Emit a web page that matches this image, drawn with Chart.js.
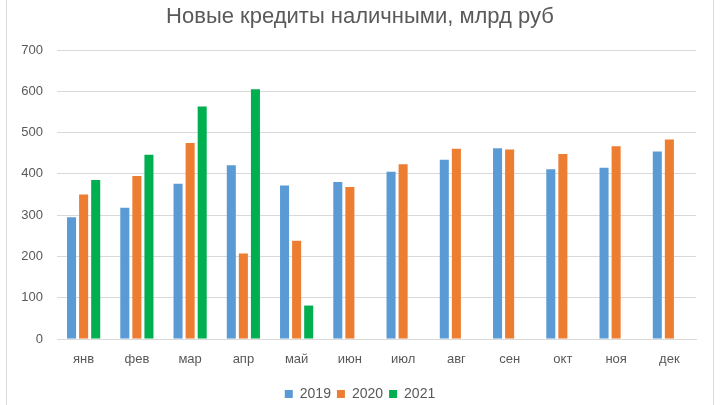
<!DOCTYPE html>
<html>
<head>
<meta charset="utf-8">
<script src="https://cdn.jsdelivr.net/npm/chart.js@4/dist/chart.umd.min.js"></script>
<style>
html,body{margin:0;padding:0;background:#fff;}
#wrap{position:relative;width:720px;height:405px;}
</style>
</head>
<body>
<div id="wrap"><canvas id="c" width="720" height="405"></canvas></div>
<script>
const categories = ['янв','фев','мар','апр','май','июн','июл','авг','сен','окт','ноя','дек'];
const seriesNames = ['2019','2020','2021'];
const values2019 = [295, 318, 376, 421, 372, 380, 405, 434, 462, 411, 415, 454];
const values2020 = [350, 395, 475, 207, 238, 368, 423, 461, 459, 448, 467, 483];
const values2021 = [385, 446, 563, 605, 81, null, null, null, null, null, null, null];
const yTicks = [0, 100, 200, 300, 400, 500, 600, 700];
const titleText = 'Новые кредиты наличными, млрд руб';

const FONT = "'Liberation Sans', Arial, sans-serif";
const TXT = '#595959';

const borderPlugin = {
  id: 'outerBorder',
  beforeDraw(chart) {
    const ctx = chart.ctx;
    ctx.save();
    ctx.fillStyle = '#fff';
    ctx.fillRect(0, 0, chart.width, chart.height);
    ctx.strokeStyle = '#d9d9d9';
    ctx.lineWidth = 1;
    ctx.strokeRect(6.5, -2, 707, 410);
    ctx.restore();
  }
};

new Chart(document.getElementById('c'), {
  type: 'bar',
  data: {
    labels: categories,
    datasets: [
      { label: seriesNames[0], data: values2019, backgroundColor: '#5B9BD5' },
      { label: seriesNames[1], data: values2020, backgroundColor: '#ED7D31' },
      { label: seriesNames[2], data: values2021, backgroundColor: '#00B050' }
    ]
  },
  options: {
    responsive: false,
    animation: false,
    devicePixelRatio: 1,
    layout: { padding: { left: 0, right: 0, top: 0, bottom: -6 } },
    datasets: { bar: { categoryPercentage: 0.68, barPercentage: 0.75 } },
    plugins: {
      title: {
        display: true,
        text: titleText,
        color: TXT,
        font: { family: FONT, size: 22, weight: 'normal' },
        padding: { top: 4, bottom: 19.6 }
      },
      legend: {
        position: 'bottom',
        labels: {
          color: TXT,
          font: { family: FONT, size: 14 },
          boxWidth: 8,
          boxHeight: 8,
          padding: 6
        }
      },
      tooltip: { enabled: false }
    },
    scales: {
      x: {
        grid: { display: false },
        border: { display: true, color: '#d9d9d9', width: 1 },
        ticks: { color: TXT, font: { family: FONT, size: 13 }, padding: 5 },
        afterFit(scale) { scale.height = 42; }
      },
      y: {
        min: 0, max: 700,
        afterBuildTicks(scale) { scale.ticks = yTicks.map(v => ({ value: v })); },
        grid: { color: '#d9d9d9', lineWidth: 1, drawTicks: false },
        border: { display: false },
        ticks: { color: TXT, font: { family: FONT, size: 13 }, padding: 14 },
        afterFit(scale) { scale.width = 57; }
      },
      yRight: {
        position: 'right',
        display: true,
        min: 0, max: 700,
        grid: { display: false, drawTicks: false },
        border: { display: false },
        ticks: { display: false },
        afterFit(scale) { scale.width = 24; }
      }
    }
  },
  plugins: [borderPlugin]
});
</script>
</body>
</html>
